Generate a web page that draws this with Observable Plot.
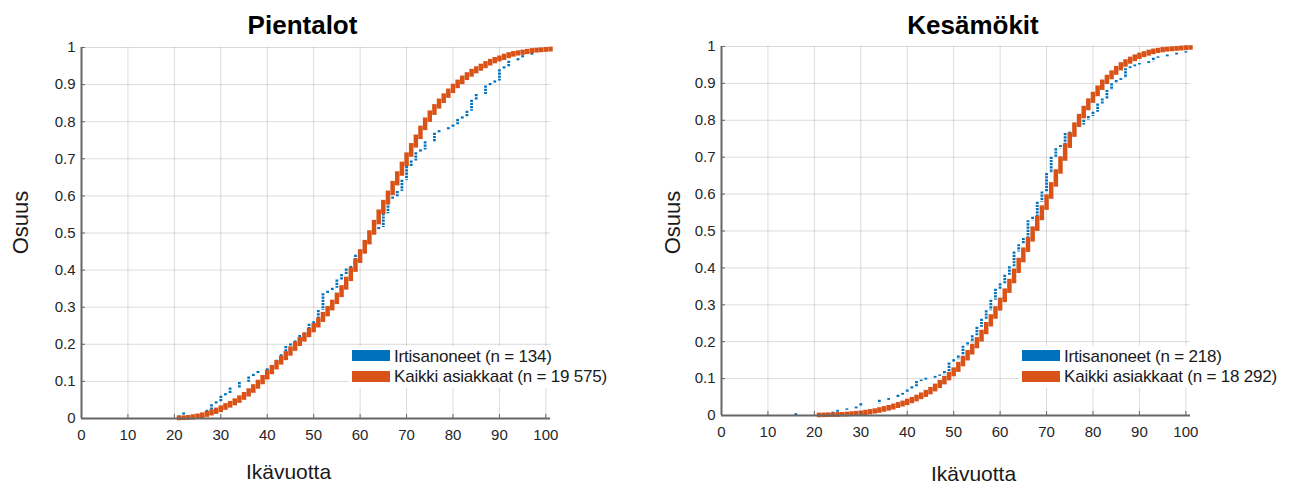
<!DOCTYPE html>
<html><head><meta charset="utf-8">
<script src="https://cdn.jsdelivr.net/npm/d3@7"></script>
<script src="https://cdn.jsdelivr.net/npm/@observablehq/plot@0.6"></script>
<style>
html,body{margin:0;padding:0;background:#fff;}
#wrap{position:relative;width:1291px;height:485px;overflow:hidden;font-family:"Liberation Sans",Arial,sans-serif;}
.panel{position:absolute;top:0;}
.legbg{position:absolute;background:#fff;height:42px;}
.sw{position:absolute;width:38px;height:11px;}
.lt{position:absolute;font-size:17px;line-height:normal;color:#1a1a1a;white-space:nowrap;letter-spacing:-0.2px;}
</style></head>
<body><div id="wrap"></div>
<script>
const xTicks = [0,10,20,30,40,50,60,70,80,90,100];
const yTicks = [0,0.1,0.2,0.3,0.4,0.5,0.6,0.7,0.8,0.9,1];
const titles = ["Pientalot","Kesämökit"];
const xLabel = "Ikävuotta";
const yLabel = "Osuus";
const legendIrt = ["Irtisanoneet (n = 134)","Irtisanoneet (n = 218)"];
const legendAll = ["Kaikki asiakkaat (n = 19 575)","Kaikki asiakkaat (n = 18 292)"];

// all customers: cumulative share at each age 21..101
const kaikkiAges = [21,22,23,24,25,26,27,28,29,30,31,32,33,34,35,36,37,38,39,40,41,42,43,44,45,46,47,48,49,50,51,52,53,54,55,56,57,58,59,60,61,62,63,64,65,66,67,68,69,70,71,72,73,74,75,76,77,78,79,80,81,82,83,84,85,86,87,88,89,90,91,92,93,94,95,96,97,98,99,100,101];
const pientalotKaikki = [0.0005,0.001,0.002,0.004,0.006,0.009,0.013,0.017,0.022,0.028,0.034,0.040,0.047,0.055,0.064,0.074,0.085,0.097,0.110,0.124,0.137,0.150,0.162,0.174,0.187,0.200,0.212,0.224,0.237,0.250,0.265,0.280,0.296,0.313,0.332,0.352,0.375,0.400,0.424,0.449,0.474,0.500,0.528,0.556,0.582,0.607,0.633,0.659,0.685,0.710,0.735,0.758,0.782,0.804,0.823,0.840,0.855,0.869,0.882,0.895,0.906,0.917,0.926,0.935,0.942,0.949,0.956,0.962,0.967,0.971,0.976,0.980,0.983,0.985,0.987,0.989,0.991,0.992,0.993,0.994,0.995];
const kesamokitKaikki = [0.0003,0.0006,0.001,0.001,0.002,0.002,0.003,0.004,0.005,0.006,0.008,0.010,0.012,0.015,0.018,0.021,0.025,0.029,0.033,0.038,0.043,0.049,0.055,0.062,0.070,0.079,0.089,0.100,0.111,0.123,0.138,0.154,0.170,0.187,0.205,0.225,0.246,0.267,0.289,0.312,0.337,0.363,0.391,0.420,0.448,0.476,0.505,0.534,0.562,0.592,0.625,0.660,0.695,0.730,0.760,0.787,0.810,0.832,0.852,0.870,0.887,0.903,0.916,0.928,0.940,0.950,0.958,0.965,0.971,0.976,0.980,0.984,0.987,0.989,0.991,0.992,0.993,0.994,0.995,0.996,0.996];

// terminated customers: ages where the cumulative share steps up
const pientalotIrtAges = [21,22,27,28,29,30,31,32,34,36,37,38,40,41,42,43,44,45,46,47,48,49,50,51,52,53,54,55,56,57,58,59,60,61,62,63,64,65,66,67,68,69,70,71,72,73,74,76,77,79,80,81,82,83,84,85,87,88,89,90,91,92,94,95,97,99,101];
const pientalotIrt = [0.007,0.015,0.022,0.037,0.045,0.060,0.067,0.082,0.097,0.112,0.119,0.127,0.134,0.142,0.157,0.172,0.194,0.201,0.209,0.224,0.231,0.254,0.261,0.291,0.336,0.343,0.351,0.373,0.388,0.403,0.410,0.440,0.448,0.478,0.500,0.507,0.515,0.552,0.590,0.597,0.612,0.642,0.679,0.694,0.716,0.724,0.746,0.769,0.776,0.784,0.791,0.806,0.813,0.828,0.858,0.873,0.896,0.903,0.910,0.940,0.948,0.963,0.970,0.978,0.985,0.993,1.000];
const kesamokitIrtAges = [16,24,25,27,29,30,34,36,38,39,40,41,42,43,44,46,47,48,49,50,51,52,53,54,55,56,57,58,59,60,61,62,63,64,65,66,67,68,69,70,71,72,73,74,75,76,77,78,79,80,81,82,83,84,85,86,87,88,89,90,92,93,94,96,98,100];
const kesamokitIrt = [0.005,0.009,0.014,0.018,0.023,0.032,0.041,0.046,0.055,0.060,0.069,0.078,0.092,0.096,0.101,0.106,0.110,0.119,0.142,0.151,0.161,0.188,0.197,0.216,0.239,0.261,0.284,0.312,0.342,0.357,0.380,0.403,0.443,0.463,0.480,0.528,0.537,0.578,0.606,0.656,0.700,0.723,0.732,0.764,0.768,0.780,0.787,0.800,0.810,0.822,0.844,0.858,0.881,0.899,0.908,0.913,0.940,0.945,0.950,0.954,0.959,0.968,0.972,0.977,0.982,0.986];

const BLUE = "#0072BD", ORANGE = "#D95319";

function steps(ages, vals){
  return ages.map((a,i)=>({age:a, lo: i ? vals[i-1] : 0, hi: vals[i]}));
}

function panel(o){
  const txt = {text: d => d, textAnchor: "middle", lineAnchor: "middle"};
  return Plot.plot({
    width: o.w, height: 485,
    marginLeft: o.ml, marginRight: o.mr, marginTop: o.mt, marginBottom: o.mb,
    x: {domain: [0, 101]},
    y: {domain: [0, 1]},
    style: {fontFamily: "'Liberation Sans', Arial, sans-serif", fontSize: "15px", color: "#262626", background: "#fff", overflow: "visible"},
    marks: [
      Plot.gridX(xTicks, {stroke: "#000", strokeOpacity: 0.14, strokeWidth: 1}),
      Plot.gridY(yTicks, {stroke: "#000", strokeOpacity: 0.14, strokeWidth: 1}),
      Plot.ruleX(steps(o.irtAges, o.irt), {x: "age", y1: "hi", y2: "lo", stroke: BLUE, strokeWidth: 2.8, strokeDasharray: "2.2,1"}),
      Plot.ruleX(steps(kaikkiAges, o.all), {x: "age", y1: "hi", y2: "lo", stroke: ORANGE, strokeWidth: 4.5, strokeLinecap: "square"}),
      Plot.ruleY([0], {stroke: "#666", strokeWidth: 2}),
      Plot.ruleX([0], {stroke: "#666", strokeWidth: 2}),
      Plot.axisX(xTicks, {tickSize: -4, tickPadding: 15, stroke: "#666", fill: "#262626", label: null, tickFormat: d => String(d)}),
      Plot.axisY(yTicks, {tickSize: -4, tickPadding: 10, stroke: "#666", fill: "#262626", label: null, tickFormat: d => String(d)}),
      Plot.text([o.title], {...txt, frameAnchor: "top", dx: o.tdx, dy: o.tdy, fontSize: 26, fontWeight: "bold", fill: "#000"}),
      Plot.text([xLabel], {...txt, frameAnchor: "bottom", dx: o.xdx, dy: o.xdy, fontSize: 21, fill: "#1a1a1a"}),
      Plot.text([yLabel], {...txt, frameAnchor: "left", rotate: -90, dx: o.ydx, dy: o.ydy, fontSize: 22, fill: "#1a1a1a"})
    ]
  });
}

const wrap = document.getElementById("wrap");
const left = panel({w: 645, ml: 81, mr: 95, mt: 47, mb: 67, all: pientalotKaikki, irtAges: pientalotIrtAges, irt: pientalotIrt,
  title: titles[0], tdx: -13.5, tdy: -22.3, xdx: -27.5, xdy: 54, ydx: -61, ydy: -10.5});
const right = panel({w: 651, ml: 81, mr: 101, mt: 46, mb: 70, all: kesamokitKaikki, irtAges: kesamokitIrtAges, irt: kesamokitIrt,
  title: titles[1], tdx: 17, tdy: -21.3, xdx: 17.5, xdy: 58.5, ydx: -49, ydy: -8.5});
left.classList.add("panel"); left.style.left = "0px";
right.classList.add("panel"); right.style.left = "640px";
wrap.appendChild(left); wrap.appendChild(right);

function legend(x0, swX, txtX, i){
  const bg = document.createElement("div"); bg.className = "legbg";
  bg.style.left = x0 + "px"; bg.style.top = "346px"; bg.style.width = "275px";
  wrap.appendChild(bg);
  [[BLUE, legendIrt[i], 350, 346.5],[ORANGE, legendAll[i], 371, 366.5]].forEach(([c, t, sy, ty]) => {
    const s = document.createElement("div"); s.className = "sw";
    s.style.left = swX + "px"; s.style.top = sy + "px"; s.style.background = c;
    wrap.appendChild(s);
    const tx = document.createElement("div"); tx.className = "lt";
    tx.style.left = txtX + "px"; tx.style.top = ty + "px"; tx.textContent = t;
    wrap.appendChild(tx);
  });
}
legend(349, 352, 394, 0);
legend(1019, 1022, 1064, 1);
</script>
</body></html>
